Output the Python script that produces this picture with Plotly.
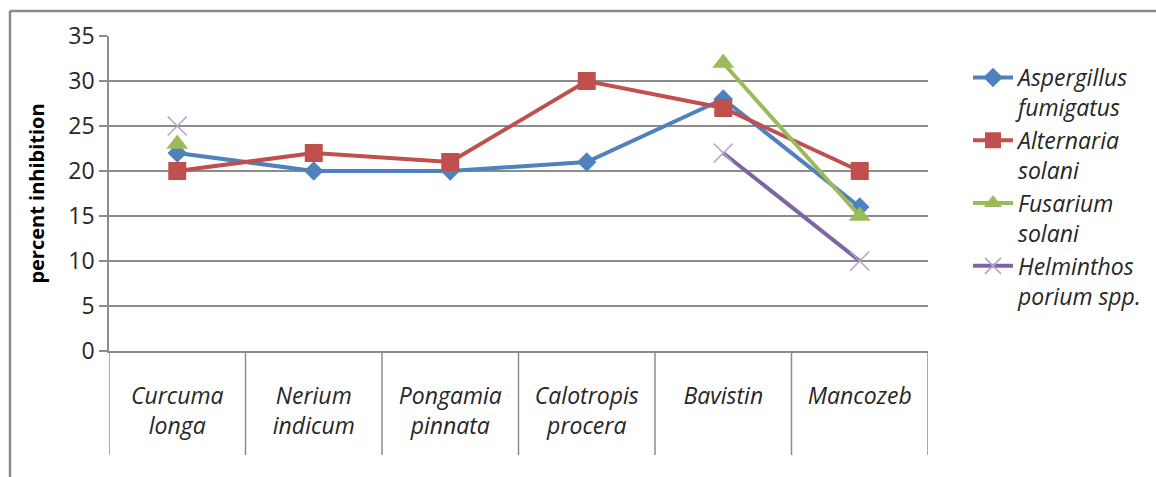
import plotly.graph_objects as go

categories = ["Curcuma<br>longa", "Nerium<br>indicum", "Pongamia<br>pinnata",
              "Calotropis<br>procera", "Bavistin", "Mancozeb"]
aspergillus = [22, 20, 20, 21, 28, 16]
alternaria = [20, 22, 21, 30, 27, 20]
fusarium = [23, None, None, None, 32, 15]
helminthos = [25, None, None, None, 22, 10]
series_names = ["Aspergillus<br>fumigatus", "Alternaria<br>solani",
                "Fusarium<br>solani", "Helminthos<br>porium spp."]
y_ticks = [0, 5, 10, 15, 20, 25, 30, 35]

W, H = 1156, 477
L, T, R, B = 109, 36, 228, 126
pw, ph = W - L - R, H - T - B

FONT = "Open Sans"
fig = go.Figure()

styles = [
    dict(color="#4F81BD", symbol="diamond", size=15, mcolor="#4F81BD", mline=0),
    dict(color="#C0504D", symbol="square", size=18, mcolor="#C0504D", mline=0),
    dict(color="#9BBB59", symbol="triangle-up", size=19, mcolor="#9BBB59", mline=0),
    dict(color="#8064A2", symbol="x-thin-open", size=19, mcolor="#B3A2C7", mline=1.5),
]
for name, vals, st in zip(series_names, [aspergillus, alternaria, fusarium, helminthos], styles):
    marker = dict(symbol=st["symbol"], size=st["size"], color=st["mcolor"])
    if st["mline"]:
        marker["line"] = dict(color=st["mcolor"], width=st["mline"])
    else:
        marker["line"] = dict(width=0)
    fig.add_trace(go.Scatter(
        x=categories, y=vals, name=name, mode="lines+markers",
        line=dict(color=st["color"], width=4), marker=marker,
        connectgaps=False,
    ))

shapes = []
# category dividers below the axis
for i in range(len(categories) + 1):
    shapes.append(dict(type="line", xref="x", yref="paper",
                       x0=i - 0.5, x1=i - 0.5, y0=0, y1=-104 / ph,
                       line=dict(color="#8C8C8C", width=1.5)))
# outer chart frame (left and top edges visible)
fx = (10 - L) / pw
fy = (H - B - 11) / ph
shapes.append(dict(type="line", xref="paper", yref="paper",
                   x0=fx, x1=2, y0=fy, y1=fy, line=dict(color="#8C8C8C", width=2.5)))
shapes.append(dict(type="line", xref="paper", yref="paper",
                   x0=fx, x1=fx, y0=fy, y1=-2, line=dict(color="#8C8C8C", width=2.5)))

fig.update_layout(
    width=W, height=H,
    margin=dict(l=L, r=R, t=T, b=B, autoexpand=False),
    paper_bgcolor="white", plot_bgcolor="white",
    font=dict(family=FONT, color="#262626"),
    shapes=shapes,
    showlegend=True,
    legend=dict(
        x=(968 - L) / pw, y=(H - B - 56) / ph, xanchor="left", yanchor="top",
        font=dict(family=FONT, size=23, style="italic", color="#262626"),
        valign="top", tracegroupgap=6, itemwidth=40,
        bgcolor="rgba(0,0,0,0)",
    ),
    xaxis=dict(
        type="category", range=[-0.5, len(categories) - 0.5],
        showgrid=False, showline=True, linecolor="#8C8C8C", linewidth=1.5,
        ticks="outside", ticklen=24, tickcolor="rgba(0,0,0,0)",
        tickfont=dict(family=FONT, size=23, style="italic", color="#262626"),
        zeroline=False,
    ),
    yaxis=dict(
        range=[0, 35], tickvals=y_ticks, ticktext=[str(v) for v in y_ticks],
        showgrid=True, gridcolor="#8C8C8C", gridwidth=1.5,
        showline=True, linecolor="#8C8C8C", linewidth=1.5,
        ticks="outside", ticklen=8, tickcolor="#8C8C8C", tickwidth=1.5,
        tickfont=dict(family=FONT, size=23, color="#262626"),
        zeroline=False,
        title=dict(text="<b>percent inhibition</b>", standoff=18,
                   font=dict(family=FONT, size=20, color="#000000")),
    ),
)

fig.write_html("out.html")
